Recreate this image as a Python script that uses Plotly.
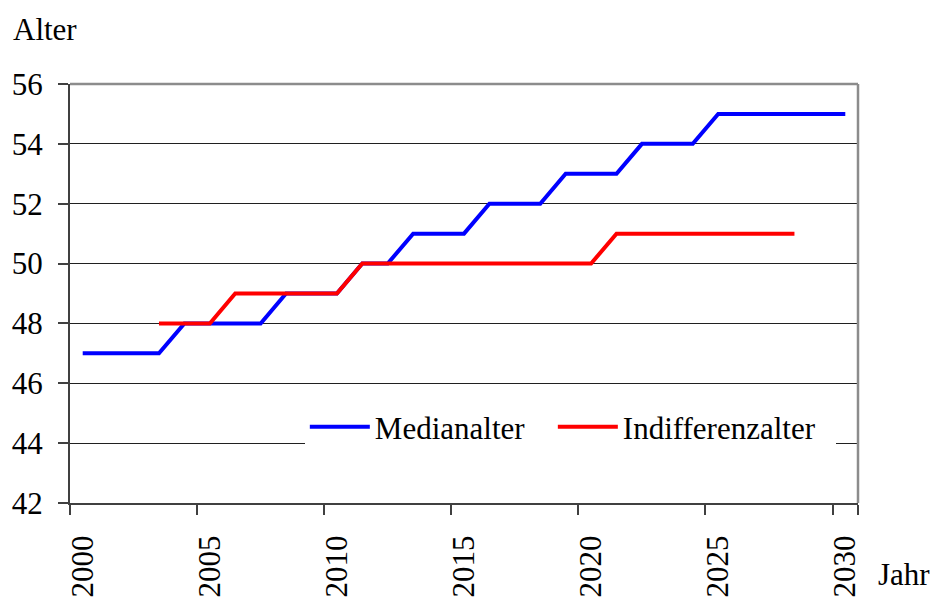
import plotly.graph_objects as go

years = [str(y) for y in range(2000, 2031)]
median_age = [47, 47, 47, 47, 48, 48, 48, 48, 49, 49, 49, 50, 50, 51, 51, 51,
              52, 52, 52, 53, 53, 53, 54, 54, 54, 55, 55, 55, 55, 55, 55]
indiff_age = [None, None, None, 48, 48, 48, 49, 49, 49, 49, 49, 50, 50, 50, 50, 50,
              50, 50, 50, 50, 50, 51, 51, 51, 51, 51, 51, 51, 51, None, None]
x_ticks = ["2000", "2005", "2010", "2015", "2020", "2025", "2030"]
y_ticks = [42, 44, 46, 48, 50, 52, 54, 56]

FONT = "Liberation Serif, Times New Roman, serif"
FS = 31
NB = "\u00a0"

fig = go.Figure()
fig.add_trace(go.Scatter(x=years, y=median_age, mode="lines", name="Medianalter" + NB * 3,
                         line=dict(color="#0000FF", width=4)))
fig.add_trace(go.Scatter(x=years, y=indiff_age, mode="lines", name="Indifferenzalter" + NB * 2,
                         line=dict(color="#FF0000", width=4)))

fig.update_layout(
    width=933, height=589,
    margin=dict(l=62, r=83, t=76, b=94),
    paper_bgcolor="white", plot_bgcolor="white",
    font=dict(family=FONT, size=FS, color="black"),
    showlegend=True,
    legend=dict(orientation="h", x=0.298, xanchor="left", y=0.181, yanchor="middle",
                bgcolor="white", font=dict(family=FONT, size=FS, color="black"),
                itemwidth=60, tracegroupgap=0),
    xaxis=dict(type="category", categoryorder="array", categoryarray=years,
               range=[-0.5, 30.5], tickmode="array", tickvals=x_ticks, ticktext=x_ticks,
               tickson="boundaries", ticks="outside", ticklen=10, tickcolor="#404040",
               tickwidth=1.5, tickangle=-90, showgrid=False, zeroline=False,
               showline=True, linecolor="#404040", linewidth=2, ticklabelstandoff=18,
               automargin=False,
               tickfont=dict(family=FONT, size=FS, color="black")),
    yaxis=dict(range=[42, 56], tickmode="array", tickvals=y_ticks,
               ticks="outside", ticklen=10, tickcolor="#404040", tickwidth=1.5,
               showgrid=True, gridcolor="#202020", gridwidth=1, zeroline=False,
               showline=True, linecolor="#404040", linewidth=2, ticklabelstandoff=9,
               automargin=False,
               tickfont=dict(family=FONT, size=FS, color="black")),
    shapes=[
        dict(type="line", xref="paper", yref="paper", x0=0, x1=1, y0=1, y1=1,
             line=dict(color="#8c8c8c", width=2.5), layer="above"),
        dict(type="line", xref="paper", yref="paper", x0=1, x1=1, y0=0, y1=1,
             line=dict(color="#8c8c8c", width=2.5), layer="above"),
    ],
    annotations=[
        dict(text="Alter", xref="paper", yref="paper", x=-0.075, y=1.13,
             xanchor="left", yanchor="middle", showarrow=False,
             font=dict(family=FONT, size=FS, color="black")),
        dict(text="Jahr", xref="paper", yref="paper", x=1.023, y=-0.17,
             xanchor="left", yanchor="middle", showarrow=False,
             font=dict(family=FONT, size=FS, color="black")),
    ],
)

fig.write_html("out.html")
